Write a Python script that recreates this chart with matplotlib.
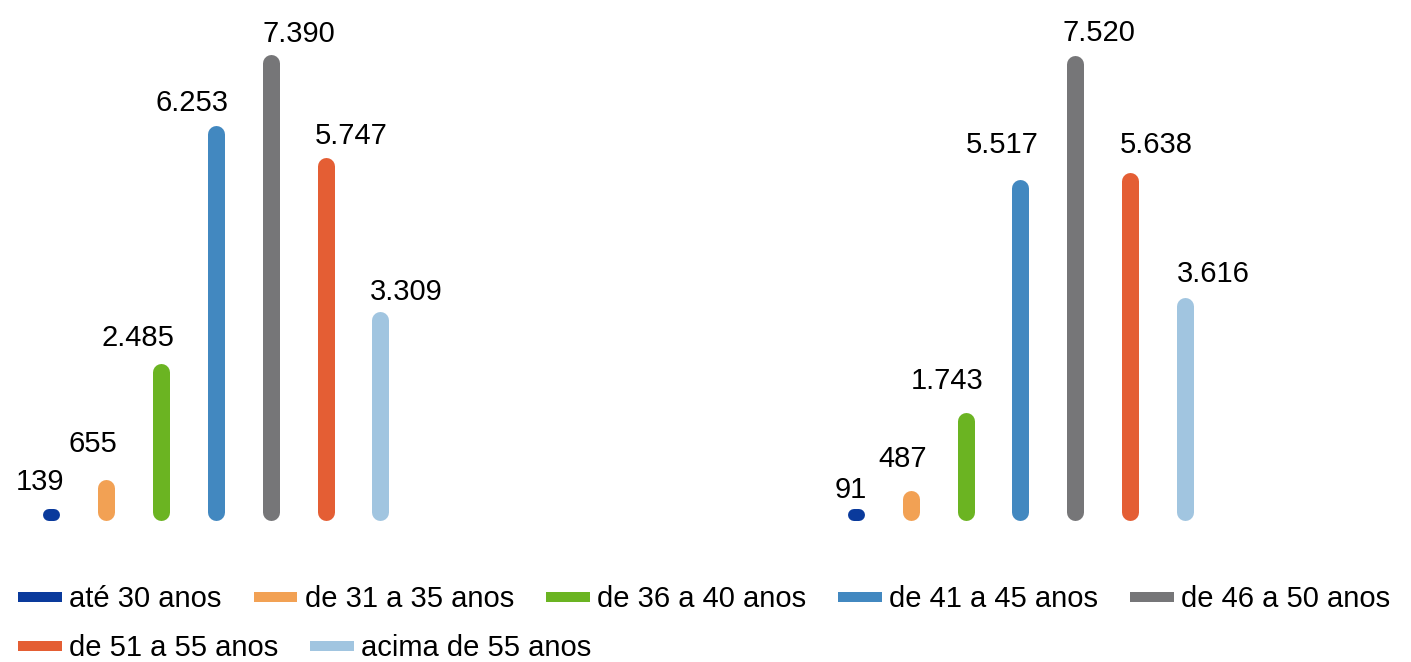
import matplotlib
matplotlib.use("Agg")
import matplotlib.pyplot as plt
from matplotlib.lines import Line2D

# ---- data ----
categories = ["até 30 anos", "de 31 a 35 anos", "de 36 a 40 anos", "de 41 a 45 anos",
              "de 46 a 50 anos", "de 51 a 55 anos", "acima de 55 anos"]
values_left = [139, 655, 2485, 6253, 7390, 5747, 3309]
values_right = [91, 487, 1743, 5517, 7520, 5638, 3616]
labels_left = ["139", "655", "2.485", "6.253", "7.390", "5.747", "3.309"]
labels_right = ["91", "487", "1.743", "5.517", "7.520", "5.638", "3.616"]

# ---- style ----
colors = ["#0a3a9c", "#f2a154", "#6bb422", "#4288c0", "#767678", "#e45e34", "#a1c5e0"]
label_dx_left = [-12, -13, -23, -24, 28, 26, 26]
label_dy_left = [22, 27, 18, 15, 12, 14, 12]
label_dx_right = [-5, -8, -18, -18, 24, 26, 29]
label_dy_right = [17, 24, 24, 27, 15, 19, 15]

plt.rcParams['font.family'] = ['Liberation Sans', 'DejaVu Sans']
FS = 21
W, H, DPI = 1411, 662, 100
fig = plt.figure(figsize=(W / DPI, H / DPI), dpi=DPI)

bar_w_px = 17
min_h_px = 12
spacing_px = 54.8
base_px = 520.7          # baseline, from top
ax_h_px = 500.7


def draw_group(left_px, width_px, first_center_px, ymax, vals, labs, dxs, dys):
    ax = fig.add_axes([left_px / W, (H - base_px) / H, width_px / W, ax_h_px / H])
    x0 = (left_px - first_center_px) / spacing_px
    x1 = (left_px + width_px - first_center_px) / spacing_px
    ax.set_xlim(x0, x1)
    ax.set_ylim(0, ymax)
    ax.axis("off")
    py = ax_h_px / ymax             # pixels per y unit
    px = width_px / (x1 - x0)       # pixels per x unit
    lw_pt = bar_w_px * 72 / DPI
    for i, (v, c) in enumerate(zip(vals, colors)):
        h_px = v * py
        if h_px >= bar_w_px:
            r = bar_w_px / 2 / py
            ax.plot([i, i], [r, v - r], color=c, lw=lw_pt, solid_capstyle="round")
        else:
            hh = max(h_px, min_h_px)
            half = (bar_w_px - hh) / 2 / px
            yc = hh / 2 / py
            ax.plot([i - half, i + half], [yc, yc], color=c, lw=hh * 72 / DPI,
                    solid_capstyle="round")
    for i, (v, t) in enumerate(zip(vals, labs)):
        ax.annotate(t, xy=(i, v), xytext=(dxs[i], dys[i]), textcoords="offset pixels",
                    ha="center", va="baseline", fontsize=FS, color="black",
                    annotation_clip=False)
    return ax


draw_group(0, 705, 51.5, 7929, values_left, labels_left, label_dx_left, label_dy_left)
draw_group(705, 706, 856, 8102, values_right, labels_right, label_dx_right, label_dy_right)

# ---- legend ----
handles = [Line2D([0], [0], color=c, lw=10 * 72 / DPI, solid_capstyle="butt") for c in colors]
common = dict(frameon=False, fontsize=FS, handlelength=1.5, handletextpad=0.25,
              columnspacing=1.1, borderpad=0, borderaxespad=0, loc="center left")
leg1 = fig.legend(handles[:5], categories[:5], ncol=5,
                  bbox_to_anchor=(18 / W, (H - 599) / H), **common)
leg2 = fig.legend(handles[5:], categories[5:], ncol=2,
                  bbox_to_anchor=(18 / W, (H - 648) / H), **common)

fig.savefig("out.png", dpi=DPI)
